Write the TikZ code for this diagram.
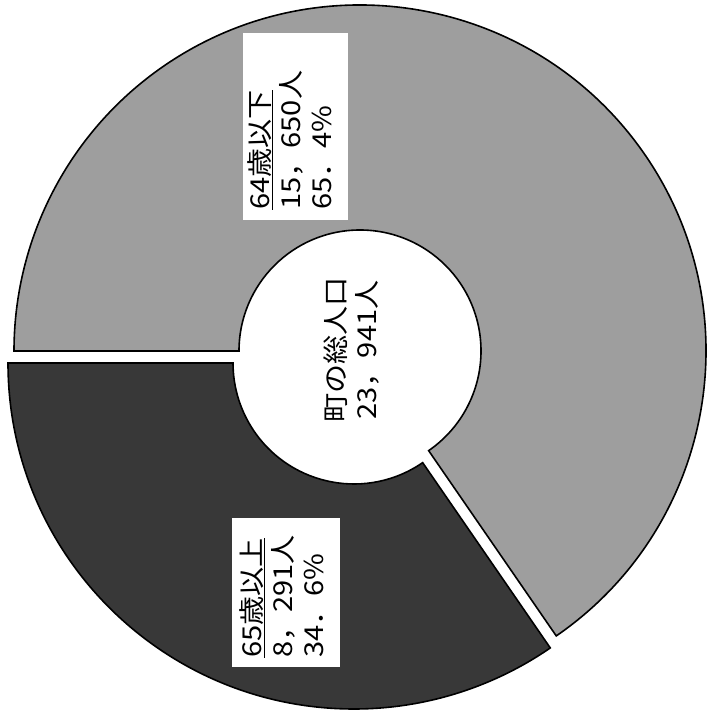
\documentclass[tikz,border=0pt]{standalone}
\usepackage{fontspec}
\newfontfamily\jp{Noto Sans CJK JP}
\newcommand{\sxline}[1]{\scalebox{1.12}[1]{#1}}
\tikzset{
  lightslice/.style={fill=black!38, draw=black, line width=1.6pt, line join=miter},
  darkslice/.style={fill=black!78, draw=black, line width=1.6pt, line join=miter},
  labelbox/.style={fill=white, draw=none},
  labeltext/.style={rotate=90, anchor=north west, inner sep=0pt, align=left,
    font=\jp\fontsize{26pt}{31pt}\selectfont},
  centertext/.style={rotate=90, inner sep=0pt, align=center,
    font=\jp\fontsize{26pt}{31pt}\selectfont}
}
\begin{document}
\begin{tikzpicture}[x=1pt,y=1pt]
\useasboundingbox (0,0) rectangle (707,717);
\fill[white] (0,0) rectangle (707,717);
% light slice (64 and under)
\begin{scope}[shift={(360,366)}]
  \draw[lightslice] (304.56:346) arc[start angle=304.56, end angle=540, radius=346pt]
    -- (180:121) arc[start angle=180, end angle=-55.44, radius=121pt] -- cycle;
\end{scope}
% dark slice (65 and over)
\begin{scope}[shift={(354,354)}]
  \draw[darkslice] (180:346) arc[start angle=180, end angle=304.56, radius=346pt]
    -- (304.56:121) arc[start angle=304.56, end angle=180, radius=121pt] -- cycle;
\end{scope}
% label boxes
\path[labelbox] (243,497) rectangle (348,684);
\path[labelbox] (232,50) rectangle (340,199);
% texts
\node[labeltext] (young) at (247,507) {\sxline{\underline{64歳以下}}\\ \sxline{15，650人}\\ \sxline{65．4\%}};
\node[labeltext] (old) at (239,59) {\sxline{\underline{65歳以上}}\\ \sxline{8，291人}\\ \sxline{34．6\%}};
\node[centertext] (total) at (351,367) {\sxline{町の総人口}\\ \sxline{23，941人}};
\end{tikzpicture}
\end{document}
